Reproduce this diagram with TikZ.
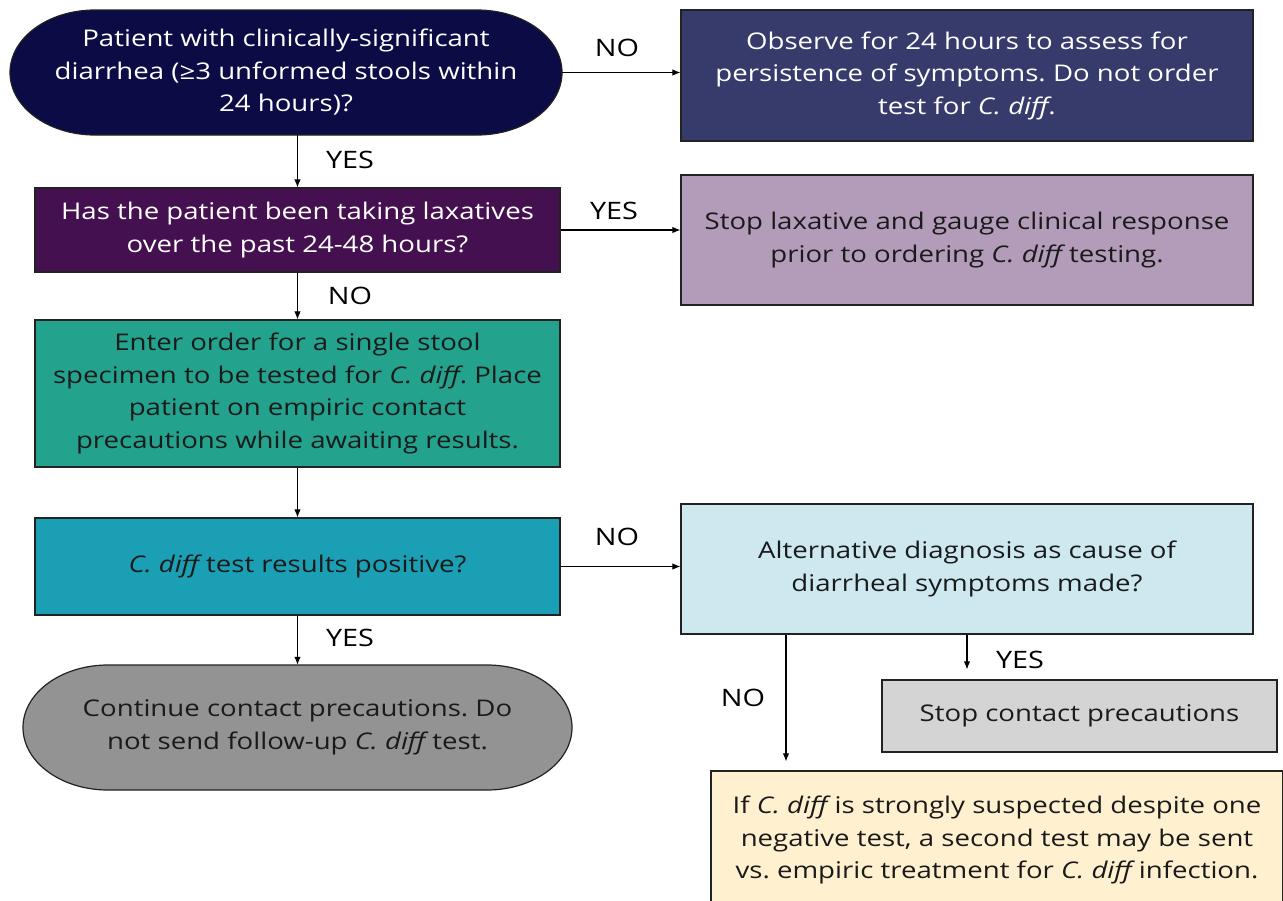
\documentclass[tikz,border=0pt]{standalone}
\usepackage{fontspec}
\setmainfont{Open Sans}[FakeStretch=1.2]
\usetikzlibrary{arrows.meta}
\frenchspacing
\definecolor{cnavy}{HTML}{0B0B45}
\definecolor{cslate}{HTML}{373B6C}
\definecolor{cplum}{HTML}{45104F}
\definecolor{clilac}{HTML}{B39BBA}
\definecolor{cgreen}{HTML}{23A38D}
\definecolor{cteal}{HTML}{1A9FB4}
\definecolor{cpale}{HTML}{CDE9EF}
\definecolor{cgrey}{HTML}{939393}
\definecolor{clight}{HTML}{D4D4D4}
\definecolor{ccream}{HTML}{FFF0CF}
\definecolor{cink}{HTML}{1A1A1A}
\definecolor{cedge}{HTML}{222222}
\tikzset{
  box/.style={draw=cedge, line width=1.2pt, inner sep=0pt, align=center,
    font=\fontsize{23}{32.5}\selectfont, text=cink},
  capsule/.style={draw=cedge, line width=1.2pt},
  txt/.style={inner sep=0pt, align=center, font=\fontsize{23}{32.5}\selectfont},
  lbl/.style={inner sep=0pt, font=\fontsize{24}{28}\selectfont, text=black},
  arr/.style={draw=black, line width=1.1pt, -{Latex[length=8pt,width=6.5pt]}}
}
\newcommand{\cd}{{\itshape C. diff}}
\begin{document}
\begin{tikzpicture}[x=1pt,y=-1pt]
\useasboundingbox (0,0) rectangle (1283,900);
\clip (0,0) rectangle (1283,900);
% capsule shapes
\path[capsule, fill=cnavy] (95,10) .. controls (48.1,10) and (10,37.9) .. (10,72.5)
  .. controls (10,107.0) and (48.1,135) .. (95,135) -- (477,135)
  .. controls (523.9,135) and (562,107.0) .. (562,72.5)
  .. controls (562,37.9) and (523.9,10) .. (477,10) -- cycle;
\path[capsule, fill=cgrey] (108,665) .. controls (61.1,665) and (23,693.0) .. (23,727.5)
  .. controls (23,762.0) and (61.1,790) .. (108,790) -- (487,790)
  .. controls (533.9,790) and (572,762.0) .. (572,727.5)
  .. controls (572,693.0) and (533.9,665) .. (487,665) -- cycle;
% nodes
\node[txt, text=white, minimum width=552pt, minimum height=125pt] (n1) at (286,72.5)
  {Patient with clinically-significant\\diarrhea (≥3 unformed stools within\\24 hours)?};
\node[box, fill=cplum, text=white, minimum width=525pt, minimum height=84pt] (n2) at (297.5,230)
  {Has the patient been taking laxatives\\over the past 24-48 hours?};
\node[box, fill=cgreen, minimum width=525pt, minimum height=147pt] (n3) at (297.5,393.5)
  {Enter order for a single stool\\specimen to be tested for \cd. Place\\patient on empiric contact\\precautions while awaiting results.};
\node[box, fill=cteal, minimum width=525pt, minimum height=97pt] (n4) at (297.5,566.5)
  {\cd{} test results positive?};
\node[txt, text=cink, minimum width=549pt, minimum height=125pt] (n5) at (297.5,727.5)
  {Continue contact precautions. Do\\not send follow-up \cd{} test.};
\node[box, fill=cslate, text=white, minimum width=572pt, minimum height=131pt] (r1) at (967,75.5)
  {Observe for 24 hours to assess for\\persistence of symptoms. Do not order\\test for \cd.};
\node[box, fill=clilac, minimum width=572pt, minimum height=130pt] (r2) at (967,240)
  {Stop laxative and gauge clinical response\\prior to ordering \cd{} testing.};
\node[box, fill=cpale, minimum width=572pt, minimum height=130pt] (r3) at (967,569)
  {Alternative diagnosis as cause of\\diarrheal symptoms made?};
\node[box, fill=clight, minimum width=395pt, minimum height=72pt] (r4) at (1079.5,716)
  {Stop contact precautions};
\node[box, fill=ccream, minimum width=572pt, minimum height=138pt] (r5) at (997,840)
  {If \cd{} is strongly suspected despite one\\negative test, a second test may be sent\\vs. empiric treatment for \cd{} infection.};
% labels
\node[lbl] (l1) at (617,48) {NO};
\node[lbl] (l2) at (350,160) {YES};
\node[lbl] (l3) at (614,211) {YES};
\node[lbl] (l4) at (350,296) {NO};
\node[lbl] (l5) at (617,537) {NO};
\node[lbl] (l6) at (350,638) {YES};
\node[lbl] (l7) at (1020,660) {YES};
\node[lbl] (l8) at (743,698) {NO};
% connectors
\coordinate (noX) at (786,0);
\draw[arr] (n1.east) -- (n1.east -| r1.west);
\draw[arr] (n1.south -| n2.north) -- (n2.north);
\draw[arr] (n2.east) -- (n2.east -| r2.west);
\draw[arr] (n2.south) -- (n3.north);
\draw[arr] (n3.south) -- (n4.north);
\draw[arr] (n4.east) -- (n4.east -| r3.west);
\draw[arr] (n4.south) -- (n5.north);
\draw[arr, shorten >=10pt] (r3.south) -- (r4.north -| r3.south);
\draw[arr, shorten >=9pt] (r3.south -| noX) -- (r5.north -| noX);
\end{tikzpicture}
\end{document}
